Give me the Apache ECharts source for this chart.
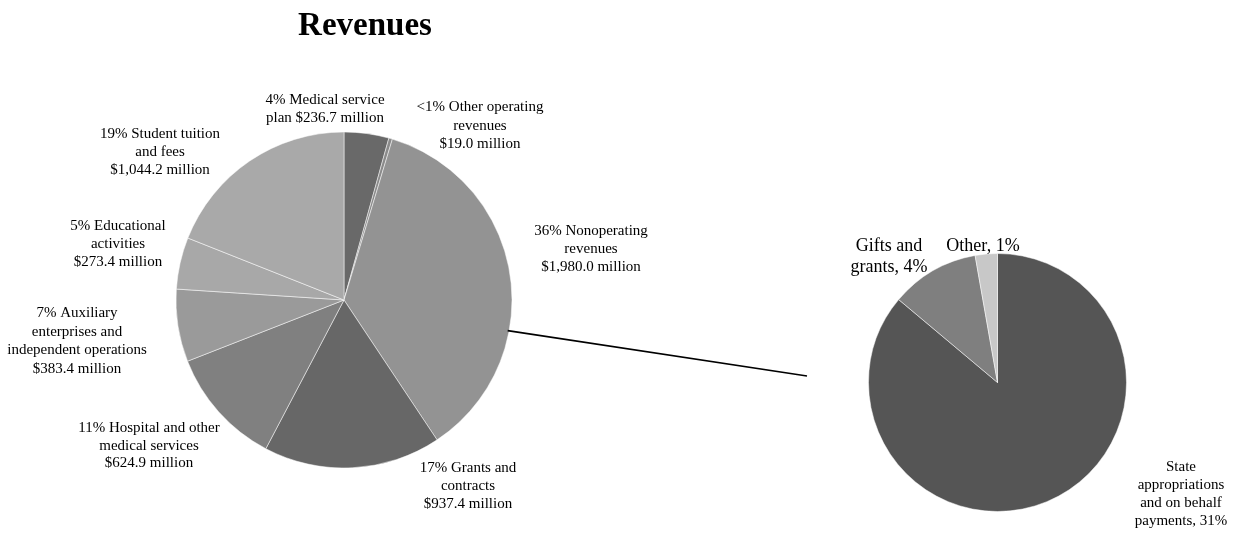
<!DOCTYPE html>
<html>
<head>
<meta charset="utf-8">
<title>Revenues</title>
<script src="https://cdn.jsdelivr.net/npm/echarts@6/dist/echarts.min.js"></script>
<style>
  html, body { margin: 0; padding: 0; background: #ffffff; }
  #chart { width: 1235px; height: 542px; }
</style>
</head>
<body>
<div id="chart"></div>
<script>
// Revenue sources, $ millions
const revenueNames = [
  '4% Medical service\nplan $236.7 million',
  '<1% Other operating\nrevenues\n$19.0 million',
  '36% Nonoperating\nrevenues\n$1,980.0 million',
  '17% Grants and\ncontracts\n$937.4 million',
  '11% Hospital and other\nmedical services\n$624.9 million',
  '7% Auxiliary\nenterprises and\nindependent operations\n$383.4 million',
  '5% Educational\nactivities\n$273.4 million',
  '19% Student tuition\nand fees\n$1,044.2 million'
];
const revenueValues = [236.7, 19.0, 1980.0, 937.4, 624.9, 383.4, 273.4, 1044.2];

// Breakdown of nonoperating revenues, % of total revenues
const nonopNames = ['State\nappropriations\nand on behalf\npayments, 31%', 'Gifts and\ngrants, 4%', 'Other, 1%'];
const nonopValues = [31, 4, 1];

// Layout
const FONT = 'Liberation Serif';
const MAIN_CENTER = [344, 300];
const MAIN_RADIUS = 168;
const SUB_CENTER = [997.5, 382.5];
const SUB_RADIUS = 129;

const mainColors = ['#696969', '#8a8a8a', '#939393', '#676767', '#808080', '#9a9a9a', '#a8a8a8', '#a9a9a9'];
const subColors = ['#555555', '#7f7f7f', '#c8c8c8'];

// label anchor points (centre of each text block)
const mainLabelAt = [[325, 109], [480, 126], [591, 249], [468, 486], [149, 446], [77, 341], [118, 244], [160, 152]];
const mainLabelLineHeight = [18, 18.5, 18, 18, 17.5, 18.5, 18, 18];
const subLabelAt = [[1181, 494], [889, 257], [983, 246]];
const subLabelLineHeight = [18, 21, 21];
const subLabelSize = [15, 18, 18];

// connector from the nonoperating slice towards the breakdown pie
const connectorAngle = 100.6;   // degrees clockwise from 12 o'clock
const connectorEnd = [807, 376];
const rad = connectorAngle * Math.PI / 180;
const connectorStart = [
  MAIN_CENTER[0] + (MAIN_RADIUS - 1.5) * Math.sin(rad),
  MAIN_CENTER[1] - (MAIN_RADIUS - 1.5) * Math.cos(rad)
];

const chart = echarts.init(document.getElementById('chart'), null, { renderer: 'canvas' });

chart.setOption({
  backgroundColor: '#ffffff',
  animation: false,
  title: {
    text: 'Revenues',
    left: 360,
    top: 5,
    textAlign: 'center',
    textStyle: { fontFamily: FONT, fontSize: 33, fontWeight: 'bold', color: '#000000' }
  },
  graphic: [{
    type: 'line',
    z: 10,
    shape: { x1: connectorStart[0], y1: connectorStart[1], x2: connectorEnd[0], y2: connectorEnd[1] },
    style: { stroke: '#000000', lineWidth: 1.6 }
  }],
  series: [
    {
      type: 'pie',
      center: MAIN_CENTER,
      radius: MAIN_RADIUS,
      startAngle: 90,
      clockwise: true,
      avoidLabelOverlap: false,
      itemStyle: { borderColor: '#ffffff', borderWidth: 0.5 },
      label: {
        show: true,
        position: 'outside',
        fontFamily: FONT,
        fontSize: 15,
        color: '#000000',
        align: 'center',
        formatter: p => p.name
      },
      labelLine: { show: false },
      labelLayout: p => ({
        x: mainLabelAt[p.dataIndex][0],
        y: mainLabelAt[p.dataIndex][1],
        align: 'center',
        verticalAlign: 'middle'
      }),
      emphasis: { disabled: true },
      data: revenueValues.map((v, i) => ({
        name: revenueNames[i],
        value: v,
        itemStyle: { color: mainColors[i] },
        label: { lineHeight: mainLabelLineHeight[i] }
      }))
    },
    {
      type: 'pie',
      center: SUB_CENTER,
      radius: SUB_RADIUS,
      startAngle: 90,
      clockwise: true,
      avoidLabelOverlap: false,
      itemStyle: { borderColor: '#ffffff', borderWidth: 0.5 },
      label: {
        show: true,
        position: 'outside',
        fontFamily: FONT,
        color: '#000000',
        align: 'center',
        formatter: p => p.name
      },
      labelLine: { show: false },
      labelLayout: p => ({
        x: subLabelAt[p.dataIndex][0],
        y: subLabelAt[p.dataIndex][1],
        align: 'center',
        verticalAlign: 'middle'
      }),
      emphasis: { disabled: true },
      data: nonopValues.map((v, i) => ({
        name: nonopNames[i],
        value: v,
        itemStyle: { color: subColors[i] },
        label: { fontSize: subLabelSize[i], lineHeight: subLabelLineHeight[i] }
      }))
    }
  ]
});
</script>
</body>
</html>
